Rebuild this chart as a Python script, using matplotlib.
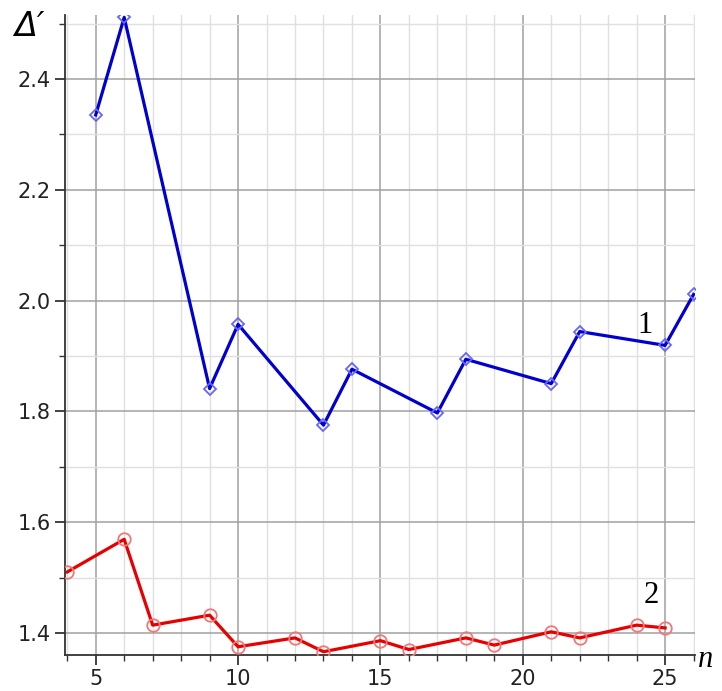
import numpy as np
import matplotlib
matplotlib.use("Agg")
import matplotlib.pyplot as plt
from matplotlib.ticker import MultipleLocator

# curve 1 (blue diamonds)
n1 = [5, 6, 9, 10, 13, 14, 17, 18, 21, 22, 25, 26]
d1 = [2.335, 2.511, 1.841, 1.957, 1.775, 1.876, 1.797, 1.894, 1.850, 1.944, 1.919, 2.011]

# curve 2 (red circles)
n2 = [4, 6, 7, 9, 10, 12, 13, 15, 16, 18, 19, 21, 22, 24, 25]
d2 = [1.510, 1.569, 1.414, 1.432, 1.375, 1.391, 1.366, 1.386, 1.370, 1.391, 1.378,
      1.402, 1.391, 1.414, 1.409]

x_ticks = [5, 10, 15, 20, 25]
y_ticks = [1.4, 1.6, 1.8, 2.0, 2.2, 2.4]

fig = plt.figure(figsize=(7.22, 6.91), dpi=100)
ax = fig.add_axes([0.09, 0.052, 0.8726, 0.926])

ax.plot(n1, d1, color="#0000d0", lw=2.3, marker="D", ms=6.5, mfc="none",
        mec="#6666ff", mew=1.3, zorder=3)
ax.plot(n2, d2, color="#e80000", lw=2.3, marker="o", ms=9, mfc="none",
        mec="#f07878", mew=1.3, zorder=3)

ax.set_xlim(3.92, 26.05)
ax.set_ylim(1.36, 2.515)
ax.set_xticks(x_ticks)
ax.set_yticks(y_ticks)
ax.set_yticklabels([f"{v:.1f}" for v in y_ticks])
ax.xaxis.set_minor_locator(MultipleLocator(1))
ax.yaxis.set_minor_locator(MultipleLocator(0.1))

ax.grid(which="major", color="#a0a0a0", lw=1.1)
ax.grid(which="minor", color="#e0e0e0", lw=1.0)
ax.set_axisbelow(True)

for s in ["top", "right"]:
    ax.spines[s].set_visible(False)
for s in ["left", "bottom"]:
    ax.spines[s].set_color("#333333")
    ax.spines[s].set_linewidth(1.3)

ax.tick_params(which="major", length=7, width=1.2, pad=3, labelsize=15, colors="#222222")
ax.tick_params(which="minor", length=4, width=1.0, colors="#333333")

fig.text(0.02, 0.962, "\u0394\u2032", fontsize=24, style="italic", ha="left", va="center")
fig.text(0.977, 0.045, "n", fontsize=22, family="Liberation Serif", style="italic",
         ha="center", va="center")

ax.text(24.3, 1.955, "1", fontsize=22, family="Liberation Serif", ha="center", va="center")
ax.text(24.5, 1.467, "2", fontsize=22, family="Liberation Serif", ha="center", va="center")

fig.savefig("out.png", dpi=100)
